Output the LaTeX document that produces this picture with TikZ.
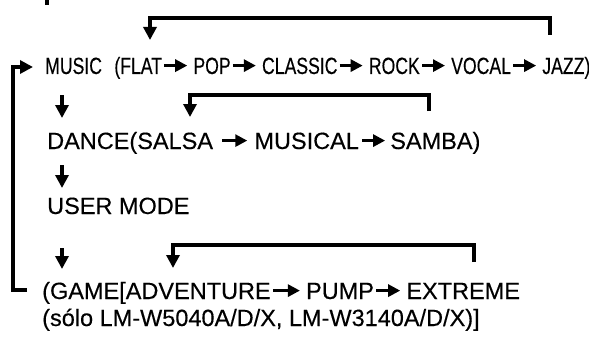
\documentclass[tikz,border=0pt]{standalone}
\usepackage{fontspec}
\setmainfont[FakeBold=0.3]{Liberation Sans}
\newfontfamily\narrowfont[FakeStretch=0.75,FakeBold=0.3]{Liberation Sans}
\usetikzlibrary{arrows.meta,positioning}
\begin{document}
\begin{tikzpicture}[x=1pt,y=-1pt,
  word/.style={inner sep=0pt, anchor=base west, text height=16.8pt, text depth=0pt,
    font=\fontsize{23.5}{28}\selectfont},
  nword/.style={word, font=\narrowfont\fontsize{23.5}{28}\selectfont},
  conn/.style={line width=3.2pt},
  arr/.style={line width=3.2pt, -{Triangle[length=13pt,width=13pt]}},
  tarr/.style={line width=2.8pt, -{Triangle[length=12pt,width=12pt]}, shorten <=2pt, shorten >=6pt}]
\useasboundingbox (0,0) rectangle (589,337);

% stray tick at top
\coordinate (t0) at (47,0);
\coordinate (t1) at (47,5);
\draw[conn] (t0) -- (t1);

% row 1
\node[nword] (music) at (45,74) {MUSIC};
\node[nword, right=12pt of music] (flat) {(FLAT};
\node[nword, right=31pt of flat] (pop) {POP};
\node[nword, right=31pt of pop] (classic) {CLASSIC};
\node[nword, right=31pt of classic] (rock) {ROCK};
\node[nword, right=31pt of rock] (vocal) {VOCAL};
\node[nword, right=31pt of vocal] (jazz) {JAZZ)};
\draw[tarr] (flat) -- (pop);
\draw[tarr] (pop) -- (classic);
\draw[tarr] (classic) -- (rock);
\draw[tarr] (rock) -- (vocal);
\draw[tarr] (vocal) -- (jazz);

% row 2
\node[word] (dance) at (47,149) {DANCE(SALSA};
\node[word, right=41pt of dance] (musical) {MUSICAL};
\node[word, right=31pt of musical] (samba) {SAMBA)};
\draw[tarr, shorten <=9pt, shorten >=7pt] (dance) -- (musical);
\draw[tarr, shorten <=3pt, shorten >=5pt] (musical) -- (samba);

% row 3
\node[word] (user) at (47,214) {USER MODE};

% row 4
\node[word] (game) at (42,299) {(GAME[ADVENTURE};
\node[word, right=35pt of game] (pump) {PUMP};
\node[word, right=32pt of pump] (extreme) {EXTREME};
\draw[tarr] (game) -- (pump);
\draw[tarr] (pump) -- (extreme);
\node[word] (solo) at (42,326) {(sólo LM-W5040A/D/X, LM-W3140A/D/X)]};

% loops
\coordinate (l1a) at (550,35);
\coordinate (l1b) at (150,40);
\draw[arr] (l1a) |- (150,18) -- (l1b);

\coordinate (l2a) at (429,111);
\coordinate (l2b) at (190,117);
\draw[arr] (l2a) |- (190,95) -- (l2b);

\coordinate (l4a) at (474,262);
\coordinate (l4b) at (173,268);
\draw[arr] (l4a) |- (173,245) -- (l4b);

% main return loop
\coordinate (m0) at (27,290);
\coordinate (m1) at (33,67);
\draw[arr] (m0) -- (13,290) |- (m1);

% down arrows
\coordinate (d1a) at (62,95);
\coordinate (d1b) at (62,118);
\draw[arr] (d1a) -- (d1b);
\coordinate (d2a) at (62,165);
\coordinate (d2b) at (62,188);
\draw[arr] (d2a) -- (d2b);
\coordinate (d3a) at (62,248);
\coordinate (d3b) at (62,269);
\draw[arr] (d3a) -- (d3b);
\end{tikzpicture}
\end{document}
